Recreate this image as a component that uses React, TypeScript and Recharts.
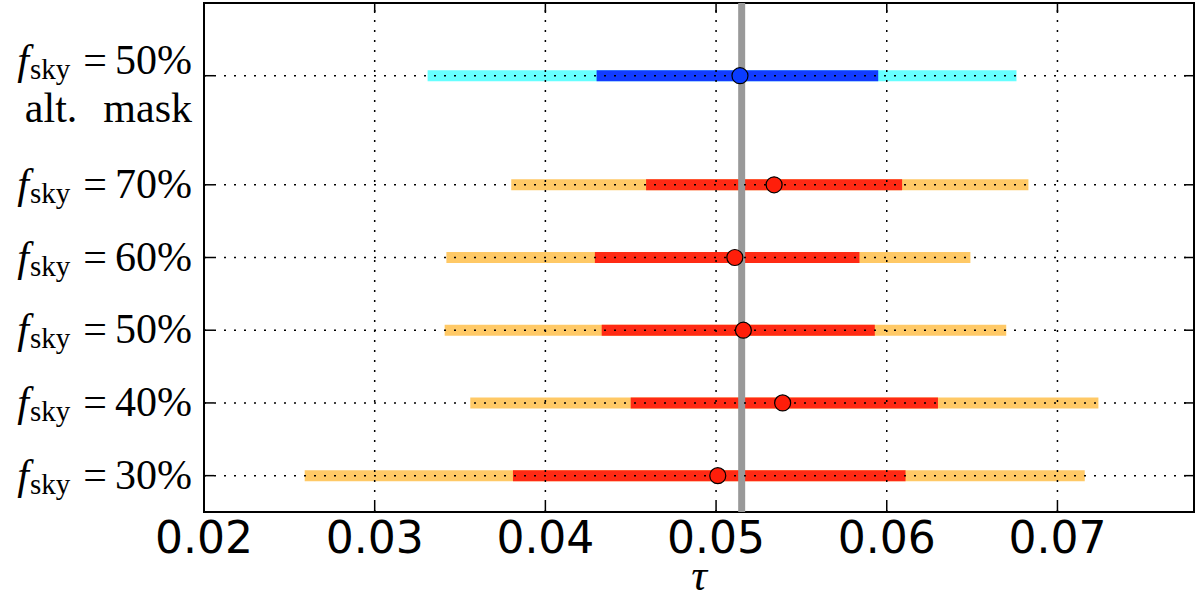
import React from "react";
import {
  ScatterChart,
  Scatter,
  XAxis,
  YAxis,
  ReferenceLine,
  ReferenceArea
} from "recharts";

// rows from bottom to top; the alt. mask row sits a half step higher
const rowPos = [0, 1, 2, 3, 4, 5.5];
const rowLabels = ["30%", "40%", "50%", "60%", "70%", "50%"];
const altRow = [false, false, false, false, false, true];

const tauBest = [0.0501, 0.0539, 0.0516, 0.0511, 0.0534, 0.0514];
const innerLo = [0.0381, 0.045, 0.0433, 0.0429, 0.0459, 0.043];
const innerHi = [0.0611, 0.063, 0.0593, 0.0584, 0.0609, 0.0595];
const outerLo = [0.0259, 0.0356, 0.0341, 0.0342, 0.038, 0.0331];
const outerHi = [0.0716, 0.0724, 0.067, 0.0649, 0.0683, 0.0676];

const tauFid = 0.0515;
const xTicks = [0.02, 0.03, 0.04, 0.05, 0.06, 0.07];

const xDomain = [0.02, 0.078];
const yDomain = [-0.5, 6.5];

const W = 1200;
const H = 600;
const M = { top: 3, right: 6, left: 0, bottom: 0 };
const Y_W = 204;
const X_H = 88;
const plotW = W - Y_W - M.right;
const plotH = H - M.top - X_H;
const tickDx = (10 / plotW) * (xDomain[1] - xDomain[0]);
const tickDy = (10 / plotH) * (yDomain[1] - yDomain[0]);

const serif = "'Liberation Serif', serif";

function RowTick(props: any) {
  const { x, y, payload } = props;
  const i = rowPos.indexOf(payload.value);
  if (i < 0) return null;
  const base = altRow[i] ? y - 2 : y + 13;
  return (
    <g>
      <text
        x={x}
        y={base}
        textAnchor="end"
        fontFamily={serif}
        fontSize={42}
        fill="#000"
      >
        <tspan fontStyle="italic">f</tspan>
        <tspan fontSize={29} dy={5} dx={1}>sky</tspan>
        <tspan dy={-5} dx={13}>=</tspan>
        <tspan dx={8}>{rowLabels[i]}</tspan>
      </text>
      {altRow[i] && (
        <text
          x={x}
          y={y + 46}
          textAnchor="end"
          fontFamily={serif}
          fontSize={42}
          fill="#000"
        >
          <tspan>alt.</tspan>
          <tspan dx={26}>mask</tspan>
        </text>
      )}
    </g>
  );
}

const fsky = rowPos
  .map((y, i) => ({ x: tauBest[i], y, alt: altRow[i] }))
  .filter(d => !d.alt);
const alt = rowPos
  .map((y, i) => ({ x: tauBest[i], y, alt: altRow[i] }))
  .filter(d => d.alt);

const dot = (fill: string) => (p: any) => (
  <circle cx={p.cx} cy={p.cy} r={8} fill={fill} stroke="#000" strokeWidth={1.2} />
);

export default function App() {
  return (
    <div
      style={{
        position: "absolute",
        left: 0,
        top: 0,
        width: W,
        height: H,
        background: "#fff"
      }}
    >
      <ScatterChart width={W} height={H} margin={M}>
        <XAxis
          type="number"
          dataKey="x"
          domain={xDomain}
          allowDataOverflow
          ticks={xTicks}
          tickFormatter={(v: number) => v.toFixed(2)}
          axisLine={false}
          tickLine={false}
          tickSize={0}
          tickMargin={10}
          height={X_H}
          tick={{ fontSize: 44, fontFamily: "'DejaVu Sans', sans-serif", fill: "#000" }}
          label={{
            value: "τ",
            position: "insideBottom",
            offset: 10,
            style: { fontSize: 44, fontStyle: "italic", fontFamily: serif, fill: "#000" }
          }}
        />
        <YAxis
          type="number"
          dataKey="y"
          domain={yDomain}
          allowDataOverflow
          ticks={rowPos}
          axisLine={false}
          tickLine={false}
          tickSize={0}
          tickMargin={12}
          width={Y_W}
          tick={<RowTick />}
        />

        {rowPos.map((y, i) => (
          <ReferenceLine
            key={"o" + i}
            segment={[{ x: outerLo[i], y }, { x: outerHi[i], y }]}
            stroke={altRow[i] ? "#66ffff" : "#ffc966"}
            strokeWidth={11}
          />
        ))}
        {rowPos.map((y, i) => (
          <ReferenceLine
            key={"i" + i}
            segment={[{ x: innerLo[i], y }, { x: innerHi[i], y }]}
            stroke={altRow[i] ? "#123cff" : "#ff2a14"}
            strokeWidth={11}
          />
        ))}

        <ReferenceLine x={tauFid} stroke="#999999" strokeWidth={7} />

        {xTicks.map(t => (
          <ReferenceLine
            key={"gx" + t}
            x={t}
            stroke="#000"
            strokeWidth={1.5}
            strokeDasharray="2 8"
          />
        ))}
        {rowPos.map(y => (
          <ReferenceLine
            key={"gy" + y}
            y={y}
            stroke="#000"
            strokeWidth={1.5}
            strokeDasharray="2 8"
          />
        ))}

        {xTicks.map(t => (
          <ReferenceLine
            key={"tb" + t}
            segment={[{ x: t, y: yDomain[0] }, { x: t, y: yDomain[0] + tickDy }]}
            stroke="#000"
            strokeWidth={1.5}
          />
        ))}
        {xTicks.map(t => (
          <ReferenceLine
            key={"tt" + t}
            segment={[{ x: t, y: yDomain[1] }, { x: t, y: yDomain[1] - tickDy }]}
            stroke="#000"
            strokeWidth={1.5}
          />
        ))}
        {rowPos.map(y => (
          <ReferenceLine
            key={"tl" + y}
            segment={[{ x: xDomain[0], y }, { x: xDomain[0] + tickDx, y }]}
            stroke="#000"
            strokeWidth={1.5}
          />
        ))}
        {rowPos.map(y => (
          <ReferenceLine
            key={"tr" + y}
            segment={[{ x: xDomain[1], y }, { x: xDomain[1] - tickDx, y }]}
            stroke="#000"
            strokeWidth={1.5}
          />
        ))}

        <ReferenceArea
          x1={xDomain[0]}
          x2={xDomain[1]}
          y1={yDomain[0]}
          y2={yDomain[1]}
          fill="none"
          fillOpacity={0}
          stroke="#000"
          strokeWidth={2}
          ifOverflow="visible"
        />

        <Scatter data={fsky} shape={dot("#ff1e0a")} isAnimationActive={false} />
        <Scatter data={alt} shape={dot("#0a3cff")} isAnimationActive={false} />
      </ScatterChart>
    </div>
  );
}
